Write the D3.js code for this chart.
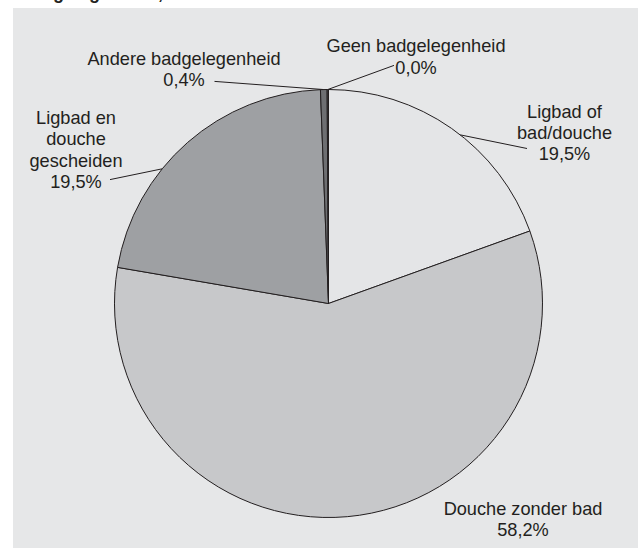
<!DOCTYPE html>
<html><head><meta charset="utf-8">
<script src="https://cdn.jsdelivr.net/npm/d3@7/dist/d3.min.js"></script>
<style>html,body{margin:0;padding:0;background:#fff;}svg{display:block;}</style>
</head><body>
<svg id="chart" width="638" height="548"></svg>
<script>
// ---- data ----
const categories = ["Ligbad of bad/douche", "Douche zonder bad", "Ligbad en douche gescheiden", "Andere badgelegenheid", "Geen badgelegenheid"];
const sliceValues = [19.5, 58.2, 21.7, 0.5, 0.1];           // slice sizes as drawn in the picture
const printedPct = ["19,5%", "58,2%", "19,5%", "0,4%", "0,0%"]; // percentages as printed on the labels
const labelLines = [["Ligbad of", "bad/douche"], ["Douche zonder bad"], ["Ligbad en", "douche", "gescheiden"], ["Andere badgelegenheid"], ["Geen badgelegenheid"]];
const sliceColors = ["#e4e5e7", "#c7c8ca", "#9ea0a3", "#6e6f72", "#4a4a4d"];
const titleText = "Badgelegenheid, 2006";

// ---- layout ----
const svg = d3.select("#chart");
const W = 638, H = 548;
const cx = 328.5, cy = 303.5, R = 214;
const ink = "#231f20";

svg.append("rect").attr("x", 13).attr("y", 8).attr("width", W - 13).attr("height", H - 8).attr("fill", "#e6e7e8");

svg.append("text").attr("x", 19).attr("y", -1)
  .attr("font-family", "Liberation Sans, Arial, sans-serif").attr("font-weight", "bold")
  .attr("font-size", 18).attr("fill", ink).text(titleText);

const data = categories.map((c, i) => ({ cat: c, v: sliceValues[i], pct: printedPct[i], lines: labelLines[i], color: sliceColors[i] }));
const pie = d3.pie().sort(null).value(d => d.v).startAngle(0).endAngle(2 * Math.PI);
const arcs = pie(data);
const arc = d3.arc().innerRadius(0).outerRadius(R);

const g = svg.append("g").attr("transform", `translate(${cx},${cy})`);
g.selectAll("path").data(arcs).join("path")
  .attr("d", arc).attr("fill", d => d.data.color)
  .attr("stroke", ink).attr("stroke-width", 1).attr("stroke-linejoin", "round");

// label placement (positions only)
const labelPos = [
  { x: 564.5, y: 117.8, lead: [527, 148.5], ang: 38 },
  { x: 523, y: 514.5, lead: null },
  { x: 76, y: 124, lead: [110, 179.6], ang: 309 },
  { x: 184, y: 64.7, lead: [214.5, 81.4], ang: null },
  { x: 416, y: 52.4, lead: [394, 65.4], ang: null }
];
const lineH = 21.3;

arcs.forEach((a, i) => {
  const p = labelPos[i];
  const lines = a.data.lines.concat([a.data.pct]);
  const t = svg.append("text").attr("text-anchor", "middle")
    .attr("font-family", "Liberation Sans, Arial, sans-serif").attr("font-size", 18.2).attr("fill", ink);
  lines.forEach((ln, k) => t.append("tspan").attr("x", p.x).attr("y", p.y + k * lineH).text(ln));
  if (p.lead) {
    const angDeg = p.ang != null ? p.ang : ((a.startAngle + a.endAngle) / 2) * 180 / Math.PI;
    const ang = angDeg * Math.PI / 180;
    const ax = cx + R * Math.sin(ang), ay = cy - R * Math.cos(ang);
    svg.append("line").attr("x1", p.lead[0]).attr("y1", p.lead[1]).attr("x2", ax).attr("y2", ay)
      .attr("stroke", ink).attr("stroke-width", 1);
  }
});
</script>
</body></html>
